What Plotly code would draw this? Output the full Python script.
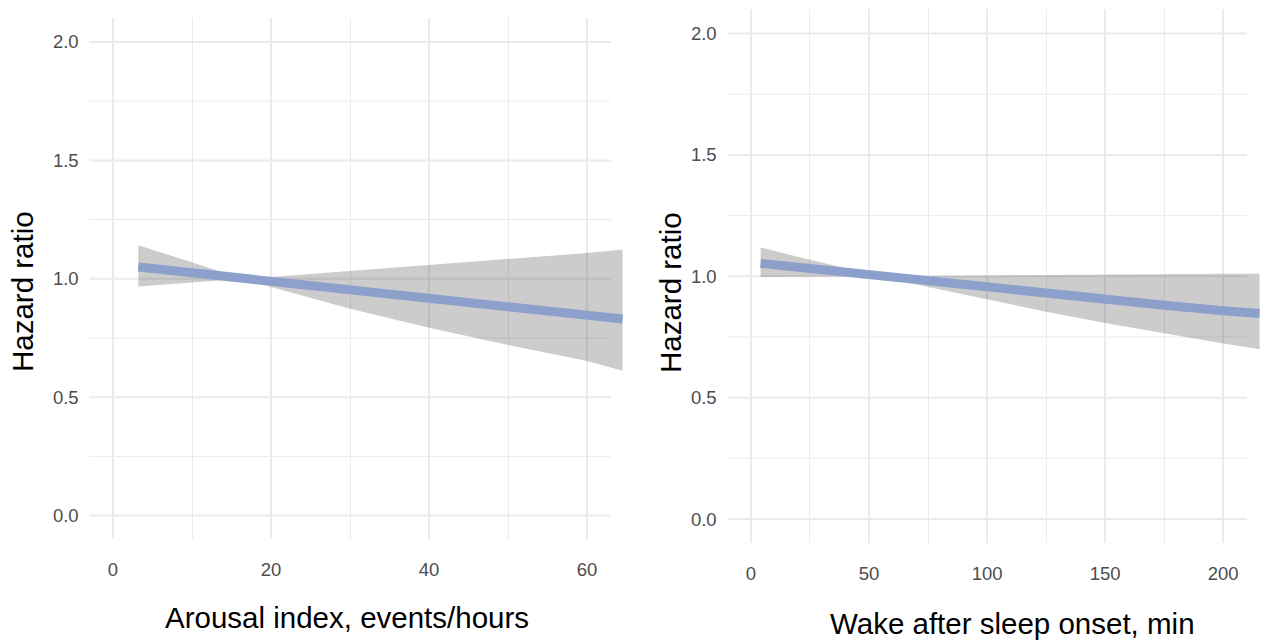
import plotly.graph_objects as go

# Arousal index (events/hour): hazard ratio curve and 95% confidence band
arousal_x = [3.2, 10, 16.5, 20, 30, 40, 50, 60, 64.5]
arousal_hr = [1.050, 1.025, 1.000, 0.987, 0.950, 0.914, 0.880, 0.845, 0.830]
arousal_hi = [1.142, 1.068, 1.000, 1.008, 1.033, 1.058, 1.083, 1.109, 1.124]
arousal_lo = [0.968, 0.984, 1.000, 0.965, 0.874, 0.793, 0.720, 0.653, 0.612]

# Wake after sleep onset (min): hazard ratio curve and 95% confidence band
waso_x = [4.1, 25, 54.7, 75, 100, 125, 150, 175, 200, 215.4]
waso_hr = [1.053, 1.031, 1.000, 0.979, 0.954, 0.929, 0.905, 0.881, 0.858, 0.847]
waso_hi = [1.119, 1.068, 1.000, 1.001, 1.003, 1.005, 1.006, 1.008, 1.010, 1.011]
waso_lo = [0.997, 0.998, 1.000, 0.956, 0.904, 0.854, 0.808, 0.765, 0.723, 0.699]

# Axis ticks
arousal_ticks = [0, 20, 40, 60]
waso_ticks = [0, 50, 100, 150, 200]
hr_ticks = [0.0, 0.5, 1.0, 1.5, 2.0]
hr_minor = [0.25, 0.75, 1.25, 1.75]

W, H = 1261, 644
LINE_COLOR = "#8DA0CB"
BAND_COLOR = "rgba(0,0,0,0.2)"
GRID = "#ebebeb"
TICK_FONT = dict(family="Liberation Sans, Arial, sans-serif", size=18.5, color="#4d4d4d")
TITLE_FONT = dict(family="Liberation Sans, Arial, sans-serif", size=29.5, color="#000000")

fig = go.Figure()


def add_panel(x, hr, lo, hi, xa, ya):
    fig.add_trace(go.Scatter(
        x=list(x) + list(x)[::-1],
        y=list(hi) + list(lo)[::-1],
        fill="toself", fillcolor=BAND_COLOR, mode="lines",
        line=dict(width=0), hoverinfo="skip", showlegend=False,
        xaxis=xa, yaxis=ya,
    ))
    fig.add_trace(go.Scatter(
        x=x, y=hr, mode="lines",
        line=dict(color=LINE_COLOR, width=9),
        showlegend=False, xaxis=xa, yaxis=ya,
    ))


add_panel(arousal_x, arousal_hr, arousal_lo, arousal_hi, "x", "y")
add_panel(waso_x, waso_hr, waso_lo, waso_hi, "x2", "y2")


def px_x(p):
    return p / W


def px_y(p):
    return 1 - p / H


common_x = dict(
    showgrid=True, gridcolor=GRID, gridwidth=2, zeroline=False,
    showline=False, ticks="outside", ticklen=13, tickcolor="rgba(0,0,0,0)",
    tickfont=TICK_FONT, fixedrange=True,
)
common_y = dict(
    showgrid=False, zeroline=False, showline=False,
    ticks="outside", ticklen=6, tickcolor="rgba(0,0,0,0)",
    tickvals=hr_ticks, ticktext=[f"{v:.1f}" for v in hr_ticks],
    tickfont=TICK_FONT, range=[-0.1, 2.1], fixedrange=True,
)

fig.update_layout(
    width=W, height=H, autosize=False,
    margin=dict(l=0, r=0, t=0, b=0),
    paper_bgcolor="white", plot_bgcolor="white",
    xaxis=dict(common_x, domain=[px_x(89.3), px_x(626.5)], range=[-3, 65],
               tickvals=arousal_ticks, anchor="y",
               minor=dict(showgrid=True, dtick=10, tick0=0, gridcolor=GRID, gridwidth=1)),
    yaxis=dict(common_y, domain=[px_y(539.3), px_y(18.3)], anchor="x"),
    xaxis2=dict(common_x, domain=[px_x(727.3), 1.0], range=[-10, 216],
                tickvals=waso_ticks, anchor="y2",
                minor=dict(showgrid=True, dtick=25, tick0=0, gridcolor=GRID, gridwidth=1)),
    yaxis2=dict(common_y, domain=[px_y(543.3), px_y(9.3)], anchor="x2"),
)

# Horizontal grid lines limited to the panel extent
shapes = []
for xr, yr, lo_x, hi_x in [("x", "y", -3, 63), ("x2", "y2", -10, 210)]:
    for v in hr_ticks:
        shapes.append(dict(type="line", xref=xr, yref=yr, x0=lo_x, x1=hi_x, y0=v, y1=v,
                           line=dict(color=GRID, width=2), layer="below"))
    for v in hr_minor:
        shapes.append(dict(type="line", xref=xr, yref=yr, x0=lo_x, x1=hi_x, y0=v, y1=v,
                           line=dict(color=GRID, width=1), layer="below"))
fig.update_layout(shapes=shapes)

# Axis titles
annotations = [
    dict(text="Arousal index, events/hours", x=px_x(347), y=px_y(617),
         xref="paper", yref="paper", xanchor="center", yanchor="middle",
         showarrow=False, font=TITLE_FONT),
    dict(text="Wake after sleep onset, min", x=px_x(1012), y=px_y(623),
         xref="paper", yref="paper", xanchor="center", yanchor="middle",
         showarrow=False, font=TITLE_FONT),
    dict(text="Hazard ratio", x=px_x(22), y=px_y(292),
         xref="paper", yref="paper", xanchor="center", yanchor="middle",
         textangle=-90, showarrow=False, font=TITLE_FONT),
    dict(text="Hazard ratio", x=px_x(670), y=px_y(293),
         xref="paper", yref="paper", xanchor="center", yanchor="middle",
         textangle=-90, showarrow=False, font=TITLE_FONT),
]
fig.update_layout(annotations=annotations)

fig.write_html("out.html")
